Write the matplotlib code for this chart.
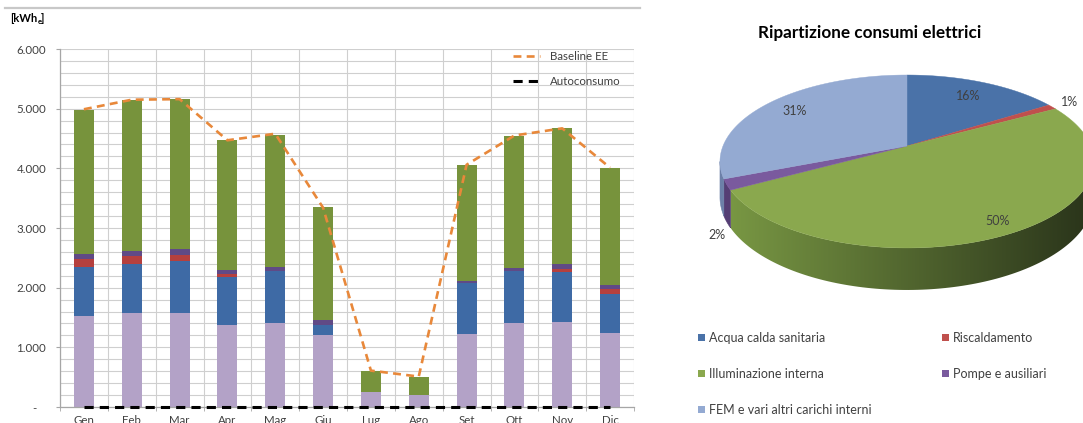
import numpy as np
import matplotlib
matplotlib.use("Agg")
import matplotlib.pyplot as plt
from matplotlib.lines import Line2D
from matplotlib.patches import Polygon, Rectangle
from matplotlib.ticker import FuncFormatter, MultipleLocator, FixedLocator
from matplotlib.colors import to_rgb

plt.rcParams['font.family'] = ['Lato', 'DejaVu Sans']

# ---------------- data ----------------
months = ["Gen", "Feb", "Mar", "Apr", "Mag", "Giu",
          "Lug", "Ago", "Set", "Ott", "Nov", "Dic"]
fem = [1520, 1580, 1580, 1370, 1405, 1200, 245, 195, 1225, 1400, 1430, 1245]
acqua_calda = [830, 825, 865, 815, 870, 175, 0, 0, 860, 875, 825, 645]
riscaldamento = [125, 120, 105, 40, 0, 0, 0, 0, 0, 0, 55, 85]
pompe = [95, 95, 95, 75, 65, 85, 0, 0, 25, 60, 85, 65]
illuminazione = [2410, 2520, 2515, 2170, 2225, 1885, 365, 310, 1945, 2205, 2275, 1970]
baseline_ee = [4990, 5150, 5160, 4470, 4580, 3340, 610, 510, 4060, 4550, 4670, 4010]
autoconsumo = [0, 0, 0, 0, 0, 0, 0, 0, 0, 0, 0, 0]

pie_labels = ["Acqua calda sanitaria", "Riscaldamento", "Illuminazione interna",
              "Pompe e ausiliari", "FEM e vari altri carichi interni"]
pie_shares = [16, 1, 50, 2, 31]

# ---------------- styles ----------------
W, H = 1083, 423
TXT = "#404040"
bar_colors = {"fem": "#B3A2C7", "acs": "#3E6AA5", "risc": "#B5403E",
              "pompe": "#604A86", "ill": "#77933C"}
pie_colors = ["#4A72A8", "#C0504D", "#8AA84E", "#7A5A9E", "#94AAD2"]
side_colors = ["#2F4D78", "#8A3533", None, "#553E74", "#6C80A8"]

fig = plt.figure(figsize=(W / 100, H / 100), dpi=100)

# separator line along the top
fig.add_artist(Line2D([5 / W, 640 / W], [1 - 8 / H] * 2, color="#C8C8C8", lw=1.6))

# ---------------- pie (drawn in a pixel-space overlay) ----------------
pax = fig.add_axes([0, 0, 1, 1])
pax.axis("off")
pax.patch.set_visible(False)

cx, cy, A, B, p, D = 907, 146, 184, 83.7, 0.179, 34.5


def proj(t, r=1.0, dz=0.0):
    u, v = r * np.cos(t), r * np.sin(t)
    den = 1 + p * v
    return cx + A * u / den, cy - B * v / den + dz * D / den


def side_outline(ta, tb):
    ts = np.linspace(ta, tb, 120)
    top = [proj(t) for t in ts]
    bot = [proj(t, dz=1.0) for t in ts[::-1]]
    return top + bot


fracs = np.array(pie_shares, dtype=float) / np.sum(pie_shares)
edges = np.pi / 2 - 2 * np.pi * np.concatenate([[0], np.cumsum(fracs)])
t_right = -np.arcsin(p)
t_left = -np.pi + np.arcsin(p)

# shading ramp for the large green side wall
g0, g1 = np.array(to_rgb("#7A9944")), np.array(to_rgb("#29331A"))
ramp = np.linspace(0, 1, 256)[None, :, None]
ramp_img = g0[None, None, :] + (g1 - g0)[None, None, :] * ramp

for i in range(len(pie_shares)):
    lo, hi = edges[i + 1], edges[i]
    for shift in (0, 2 * np.pi, -2 * np.pi):
        s0, s1 = max(lo + shift, t_left), min(hi + shift, t_right)
        if s1 <= s0:
            continue
        outline = side_outline(s0, s1)
        if side_colors[i] is None:
            poly = Polygon(outline, closed=True, facecolor="none",
                           edgecolor="none", zorder=1)
            pax.add_patch(poly)
            im = pax.imshow(ramp_img, extent=(722, 1094, 300, 140),
                            aspect="auto", interpolation="bilinear", zorder=1)
            im.set_clip_path(poly)
        else:
            pax.add_patch(Polygon(outline, closed=True, facecolor=side_colors[i],
                                  edgecolor=side_colors[i], lw=0.4, zorder=1))

for i in range(len(pie_shares)):
    ts = np.linspace(edges[i], edges[i + 1], 200)
    pts = [(cx, cy)] + [proj(t) for t in ts]
    pax.add_patch(Polygon(pts, closed=True, facecolor=pie_colors[i],
                          edgecolor=pie_colors[i], lw=0.3, zorder=2))

label_r = [0.77, 1.13, 0.88, 1.05, 0.8]
label_dz = [0, 0, 0, 1.3, 0]
for i in range(len(pie_shares)):
    tm = 0.5 * (edges[i] + edges[i + 1])
    lx, ly = proj(tm, label_r[i], label_dz[i])
    pax.text(lx, ly, f"{pie_shares[i]}%", ha="center", va="center",
             fontsize=9, color=TXT, zorder=3)

pax.text(870, 33, "Ripartizione consumi elettrici", ha="center", va="center",
         fontsize=12.3, fontweight="bold", color="#000000")

leg_pos = [(698, 338), (942, 338), (698, 374), (942, 374), (698, 410)]
for (lx, ly), lab, col in zip(leg_pos, pie_labels, pie_colors):
    pax.add_patch(Rectangle((lx, ly - 3.5), 7, 7, facecolor=col, edgecolor="none"))
    pax.text(lx + 11, ly, lab, ha="left", va="center", fontsize=9, color=TXT)

pax.set_xlim(0, W)
pax.set_ylim(H, 0)

# ---------------- stacked bars ----------------
ax = fig.add_axes([60 / W, (H - 407) / H, 574 / W, 358 / H])
x = np.arange(len(months))
width = 0.42
series = [(fem, "fem"), (acqua_calda, "acs"), (riscaldamento, "risc"),
          (pompe, "pompe"), (illuminazione, "ill")]
bottom = np.zeros(len(months))
for vals, key in series:
    vals = np.array(vals, dtype=float)
    ax.bar(x, vals, width, bottom=bottom, color=bar_colors[key], zorder=2, lw=0)
    bottom += vals

ax.plot(x, baseline_ee, color="#E8883A", lw=1.9, linestyle=(0, (3, 2)),
        zorder=3, label="Baseline EE")
ax.plot(x, autoconsumo, color="#000000", lw=2.2, linestyle=(0, (3, 2)),
        zorder=4, label="Autoconsumo", clip_on=False)

ax.set_xlim(-0.5, len(months) - 0.5)
ax.set_ylim(0, 6000)
ax.yaxis.set_major_locator(MultipleLocator(1000))
ax.yaxis.set_minor_locator(MultipleLocator(200))
ax.yaxis.set_major_formatter(FuncFormatter(
    lambda v, _: "-   " if v == 0 else f"{int(v):,}".replace(",", ".")))
ax.set_xticks(x)
ax.set_xticklabels(months)
ax.xaxis.set_minor_locator(FixedLocator(np.arange(-0.5, len(months), 1.0)))

grid_col = "#CFCFCF"
ax.grid(which="both", axis="y", color=grid_col, lw=0.8, zorder=0)
ax.grid(which="minor", axis="x", color=grid_col, lw=0.8, zorder=0)
ax.set_axisbelow(True)

for s in ("top", "right"):
    ax.spines[s].set_visible(False)
for s in ("left", "bottom"):
    ax.spines[s].set_color("#A6A6A6")
    ax.spines[s].set_linewidth(0.9)

ax.tick_params(axis="y", which="major", length=3, color="#A6A6A6",
               labelsize=8.3, labelcolor=TXT, pad=7)
ax.tick_params(axis="y", which="minor", length=0)
ax.tick_params(axis="x", which="major", length=0, labelsize=8.3,
               labelcolor=TXT, pad=6)
ax.tick_params(axis="x", which="minor", length=3, color="#A6A6A6")

ax.legend(loc="upper left", bbox_to_anchor=(513 / W, 1 - 51 / H),
          bbox_transform=fig.transFigure, frameon=False, fontsize=8.3,
          handlelength=2.3, handletextpad=0.9, labelspacing=1.2,
          borderpad=0, borderaxespad=0, labelcolor=TXT)

# unit label with subscript
fig.canvas.draw()
r = fig.canvas.get_renderer()
t1 = fig.text(10 / W, 1 - 18 / H, "[kWh", fontsize=8, fontweight="bold",
              color="#000000", va="center")
bb = t1.get_window_extent(r)
t2 = fig.text(bb.x1 / W, 1 - 21 / H, "e", fontsize=5.5, fontweight="bold",
              color="#000000", va="center")
bb2 = t2.get_window_extent(r)
fig.text(bb2.x1 / W, 1 - 18 / H, "]", fontsize=8, fontweight="bold",
         color="#000000", va="center")

fig.savefig("out.png", dpi=100)
